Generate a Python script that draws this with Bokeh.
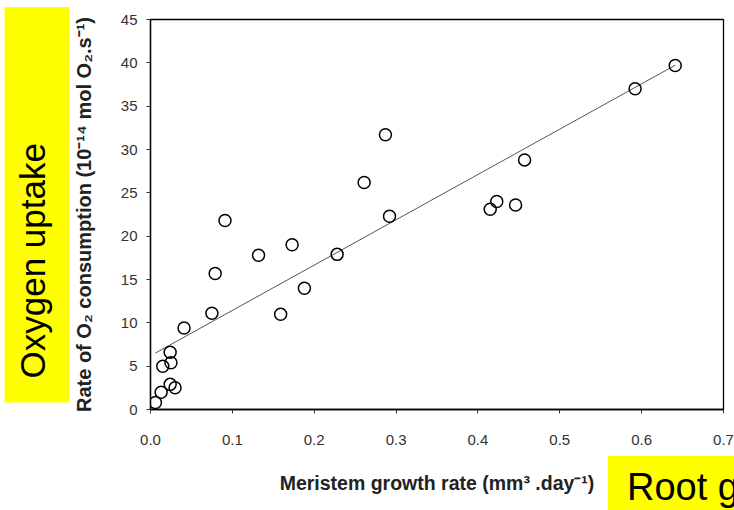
from bokeh.plotting import figure
from bokeh.models import FixedTicker, Range1d, Title, Div
from bokeh.layouts import column
from bokeh.embed import file_html
from bokeh.resources import INLINE

# Data
growth_rate = [0.006, 0.013, 0.024, 0.030, 0.015, 0.025, 0.024, 0.041, 0.075, 0.079,
               0.091, 0.132, 0.173, 0.159, 0.188, 0.228, 0.261, 0.287, 0.292,
               0.457, 0.423, 0.415, 0.446, 0.592, 0.641]
o2_rate = [0.8, 2.0, 2.9, 2.5, 5.0, 5.4, 6.6, 9.4, 11.1, 15.7,
           21.8, 17.8, 19.0, 11.0, 14.0, 17.9, 26.2, 31.7, 22.3,
           28.8, 24.0, 23.1, 23.6, 37.0, 39.7]
fit_x = [0.006, 0.641]
fit_slope = 52.3
fit_intercept = 6.2
x_ticks = [0.0, 0.1, 0.2, 0.3, 0.4, 0.5, 0.6, 0.7]
y_ticks = [0, 5, 10, 15, 20, 25, 30, 35, 40, 45]
fit_y = [fit_intercept + fit_slope * v for v in fit_x]

FONT = "Liberation Sans"
YELLOW = "#ffff00"

p = figure(width=734, height=510, output_backend="svg", toolbar_location=None,
           x_range=Range1d(0, 0.7), y_range=Range1d(0, 45),
           min_border_left=150, min_border_right=11, min_border_top=19, min_border_bottom=101)
p.grid.visible = False
p.outline_line_color = "black"
p.outline_line_width = 1.3
p.background_fill_color = "white"
p.border_fill_color = "white"

for ax in (p.xaxis[0], p.yaxis[0]):
    ax.axis_line_color = "black"
    ax.axis_line_width = 1.3
    ax.major_tick_line_color = "#333333"
    ax.major_tick_out = 4
    ax.major_tick_in = 0
    ax.minor_tick_line_color = None
    ax.major_label_text_font = FONT
    ax.major_label_text_font_size = "15px"
    ax.major_label_text_color = "#333333"
    ax.axis_label_text_font = FONT
    ax.axis_label_text_font_style = "bold"
    ax.axis_label_text_font_size = "19.5px"
    ax.axis_label_text_color = "#222222"

p.yaxis.axis_label_text_font_size = "20px"
p.xaxis.ticker = FixedTicker(ticks=x_ticks)
p.xaxis.major_label_overrides = {t: f"{t:.1f}" for t in x_ticks}
p.yaxis.ticker = FixedTicker(ticks=y_ticks)
p.xaxis.major_label_standoff = 21
p.yaxis.major_label_standoff = 9
p.xaxis.axis_label = "Meristem growth rate (mm³ .day⁻¹)"
p.yaxis.axis_label = "Rate of O₂ consumption (10⁻¹⁴ mol O₂.s⁻¹)"
p.xaxis.axis_label_standoff = 24
p.yaxis.axis_label_standoff = 23

p.line(fit_x, fit_y, line_color="#555555", line_width=1)
p.scatter(growth_rate, o2_rate, size=12, marker="circle", fill_color=None,
          line_color="black", line_width=1.5)

# left yellow box as a title panel
t_left = Title(text="Oxygen uptake" + " " * 14, align="left", offset=7, standoff=0,
               text_font=FONT, text_font_size="35px", text_font_style="normal",
               text_color="black", background_fill_color=YELLOW,
               padding=dict(left=24, right=0, top=8, bottom=18))
p.add_layout(t_left, "left")

# bottom-right yellow box (cut off by the window edge, as in the reference)
root_box = Div(text="Root growth", width=126, height=54, margin=0,
               styles={"position": "absolute", "left": "608px", "top": "456px",
                       "background-color": YELLOW, "color": "black",
                       "font-family": FONT, "font-size": "38px", "line-height": "42px",
                       "padding-left": "19px", "padding-top": "10px",
                       "box-sizing": "border-box", "white-space": "nowrap",
                       "overflow": "hidden"})

layout = column(p, root_box)
open("out.html", "w").write(file_html(layout, INLINE))
